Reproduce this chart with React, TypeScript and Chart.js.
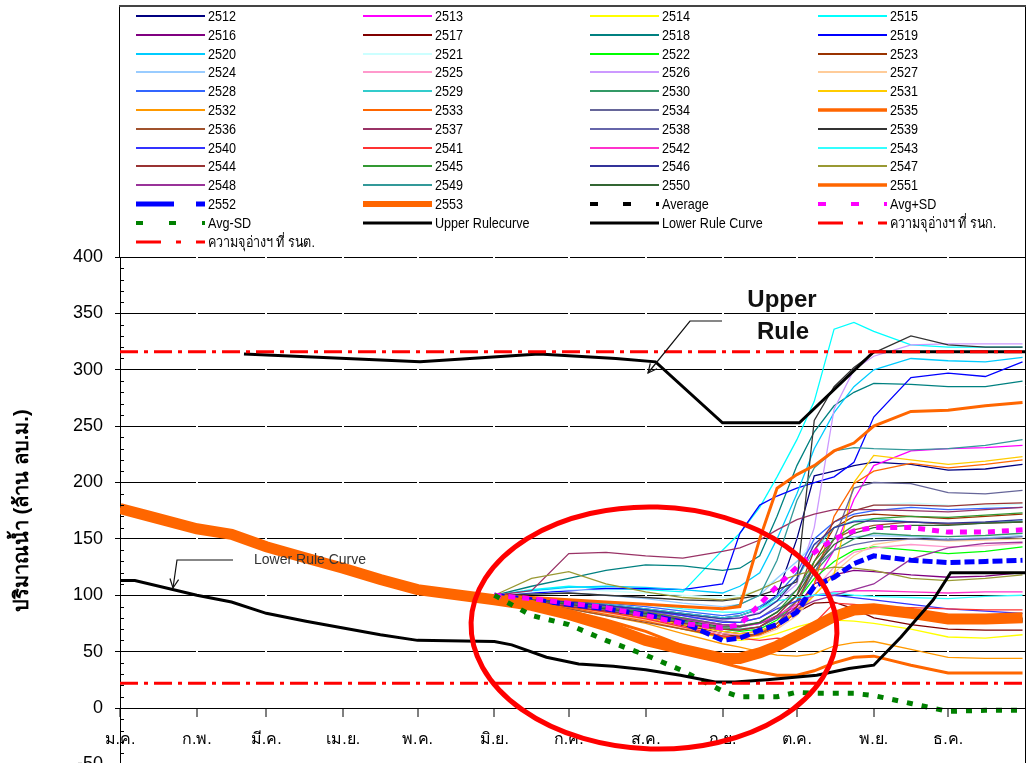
import React, { useEffect, useRef } from "react";
import { Chart, registerables } from "chart.js";

Chart.register(...registerables);

// ---------- axis data ----------
const MONTH_LABELS = ["ม.ค.", "ก.พ.", "มี.ค.", "เม.ย.", "พ.ค.", "มิ.ย.", "ก.ค.", "ส.ค.", "ก.ย.", "ต.ค.", "พ.ย.", "ธ.ค."];
const MONTH_START_DAYS = [0, 31, 59, 90, 120, 151, 181, 212, 243, 273, 304, 334];
const Y_MIN = -50;
const Y_MAX = 400;
const Y_STEP = 50;
const Y_TITLE = "ปริมาณน้ำ (ล้าน ลบ.ม.)";

// ---------- series data (day of year -> million m3) ----------
const SEASON_DAYS = [151, 166, 181, 196, 212, 227, 243, 250, 258, 265, 273, 280, 288, 296, 304, 319, 334, 349, 364];

const S2512 = [100, 97, 95, 92, 88, 84, 80, 82, 88, 100, 150, 206, 210, 215, 218, 216, 211, 212, 216];
const S2513 = [100, 96, 93, 90, 86, 80, 74, 72, 75, 82, 90, 110, 140, 185, 215, 228, 230, 231, 233];
const S2514 = [100, 95, 90, 85, 78, 70, 62, 60, 62, 66, 72, 76, 78, 77, 75, 70, 63, 62, 65];
const S2515 = [100, 105, 108, 106, 105, 103, 140, 155, 178, 205, 238, 272, 336, 342, 334, 322, 320, 320, 320];
const S2516 = [100, 95, 91, 88, 83, 76, 68, 66, 68, 75, 90, 110, 118, 122, 121, 118, 116, 117, 120];
const S2517 = [100, 96, 92, 88, 82, 74, 66, 63, 65, 72, 85, 93, 94, 88, 80, 74, 70, 69, 69];
const S2518 = [100, 108, 115, 122, 127, 126, 122, 124, 135, 170, 215, 245, 268, 280, 288, 287, 285, 285, 290];
const S2519 = [100, 102, 104, 106, 106, 105, 110, 155, 180, 188, 195, 200, 205, 218, 258, 293, 297, 294, 307];
const S2520 = [100, 104, 107, 108, 107, 105, 102, 108, 120, 150, 190, 230, 262, 285, 300, 310, 308, 307, 311];
const S2521 = [100, 103, 105, 104, 102, 100, 98, 100, 105, 115, 130, 150, 165, 175, 180, 182, 180, 179, 181];
const S2522 = [100, 96, 92, 87, 82, 76, 70, 68, 70, 78, 95, 115, 130, 140, 143, 140, 137, 139, 143];
const S2523 = [100, 95, 90, 86, 80, 73, 66, 64, 66, 72, 90, 130, 160, 170, 172, 170, 168, 170, 172];
const S2524 = [100, 101, 102, 100, 97, 93, 90, 92, 100, 115, 130, 145, 150, 152, 153, 152, 150, 151, 153];
const S2525 = [100, 95, 90, 85, 79, 72, 66, 65, 68, 75, 88, 105, 125, 138, 142, 145, 143, 144, 146];
const S2526 = [100, 96, 92, 88, 84, 80, 78, 80, 85, 95, 110, 160, 265, 300, 312, 322, 323, 323, 323];
const S2527 = [100, 95, 89, 84, 78, 71, 64, 62, 64, 70, 82, 100, 120, 135, 145, 150, 148, 149, 150];
const S2528 = [100, 98, 96, 93, 90, 86, 82, 84, 90, 100, 120, 150, 165, 172, 175, 178, 176, 177, 178];
const S2529 = [100, 97, 94, 92, 88, 84, 80, 82, 88, 98, 115, 140, 160, 166, 168, 165, 163, 164, 166];
const S2530 = [100, 96, 92, 88, 83, 77, 71, 70, 72, 80, 95, 120, 140, 150, 155, 153, 152, 153, 155];
const S2531 = [100, 95, 90, 85, 80, 74, 68, 66, 68, 75, 85, 100, 118, 200, 224, 220, 216, 219, 223];
const S2532 = [100, 94, 88, 82, 75, 66, 57, 54, 50, 47, 46, 48, 55, 58, 59, 52, 45, 44, 44];
const S2533 = [100, 95, 89, 83, 77, 70, 63, 62, 65, 72, 85, 110, 170, 199, 210, 217, 213, 216, 220];
const S2534 = [100, 96, 92, 87, 82, 76, 70, 69, 72, 80, 95, 120, 150, 195, 200, 199, 191, 190, 193];
const S2535 = [100, 93, 86, 78, 68, 55, 40, 36, 32, 29, 29, 33, 40, 45, 46, 38, 31, 31, 31];
const S2536 = [100, 94, 88, 82, 76, 70, 64, 63, 66, 75, 95, 125, 150, 158, 162, 165, 163, 164, 165];
const S2537 = [100, 104, 137, 138, 135, 133, 139, 142, 149, 158, 167, 172, 176, 176, 176, 175, 174, 176, 178];
const S2538 = [100, 97, 94, 90, 86, 82, 77, 76, 80, 90, 105, 125, 140, 145, 148, 150, 149, 150, 152];
const S2539 = [100, 101, 102, 100, 98, 96, 95, 97, 100, 105, 112, 255, 285, 302, 315, 330, 322, 320, 320];
const S2540 = [100, 97, 94, 91, 87, 82, 76, 76, 80, 88, 95, 100, 100, 98, 96, 92, 88, 86, 84];
const S2541 = [100, 95, 90, 85, 79, 72, 64, 62, 60, 62, 60, 75, 93, 92, 90, 89, 88, 87, 87];
const S2542 = [100, 96, 93, 89, 85, 79, 73, 72, 75, 82, 92, 100, 103, 104, 104, 103, 102, 103, 103];
const S2543 = [100, 98, 96, 94, 92, 88, 85, 85, 88, 95, 98, 100, 102, 100, 99, 98, 97, 99, 100];
const S2544 = [100, 95, 90, 86, 81, 75, 70, 69, 72, 82, 100, 140, 165, 175, 180, 180, 179, 181, 182];
const S2545 = [100, 96, 93, 89, 85, 80, 74, 73, 76, 85, 105, 130, 150, 162, 168, 170, 169, 171, 173];
const S2546 = [100, 97, 94, 91, 87, 83, 79, 80, 84, 95, 115, 145, 160, 165, 166, 165, 164, 165, 167];
const S2547 = [100, 115, 121, 110, 103, 98, 96, 98, 105, 112, 118, 122, 125, 124, 122, 115, 113, 115, 118];
const S2548 = [100, 96, 92, 88, 84, 79, 74, 73, 75, 80, 88, 95, 100, 105, 110, 132, 142, 146, 147];
const S2549 = [100, 98, 96, 94, 92, 90, 88, 92, 100, 131, 184, 213, 228, 231, 230, 229, 230, 233, 238];
const S2550 = [100, 96, 92, 88, 84, 78, 72, 72, 76, 85, 100, 125, 145, 155, 160, 162, 162, 164, 165];
const S2551 = [100, 98, 96, 94, 92, 90, 88, 90, 150, 195, 207, 215, 228, 235, 250, 263, 264, 268, 271];
const S2552 = [100, 96, 92, 88, 83, 76, 60, 62, 69, 74, 85, 108, 116, 128, 135, 131, 129, 130, 131];

const DAYS_2553 = [0, 12, 31, 45, 59, 75, 90, 105, 120, 151, 166, 181, 196, 212, 227, 243, 250, 258, 265, 273, 280, 288, 296, 304, 319, 334, 349, 364];
const S2553 = [177, 170, 159, 154, 143, 133, 124, 114, 105, 96, 91, 83, 73, 60, 52, 44, 44, 49, 55, 64, 72, 81, 87, 88, 84, 79, 79, 80];

const AVERAGE = [100, 93, 85, 75, 62, 53, 45, 44, 49, 55, 63, 72, 80, 86, 87, 84, 79, 78, 78];
const AVG_PLUS_SD = [100, 97, 93, 89, 82, 75, 71, 74, 92, 108, 125, 138, 150, 157, 160, 160, 156, 156, 158];
const AVG_MINUS_SD = [100, 82, 74, 60, 47, 33, 15, 10, 10, 10, 14, 13, 13, 13, 11, 4, -3, -2, -2];

const UPPER_DAYS = [50, 121, 169, 200, 216, 243, 274, 304, 365];
const UPPER_RULE = [314, 307, 314, 310, 307, 253, 253, 316, 316];

const LOWER_DAYS = [0, 6, 31, 45, 59, 75, 90, 105, 120, 151, 158, 172, 185, 199, 212, 226, 240, 248, 261, 281, 294, 304, 315, 328, 335, 365];
const LOWER_RULE = [113, 113, 100, 94, 84, 77, 71, 65, 60, 59, 56, 45, 39, 37, 34, 29, 23, 23, 25, 29, 35, 38, 63, 96, 120, 120];

const CAP_DAYS = [0, 365];
const CAP_NORMAL = [316, 316];
const CAP_MIN = [22, 22];

// ---------- series list (legend order) ----------
const SERIES: [string, number[], number[]][] = [
  ["2512", SEASON_DAYS, S2512], ["2513", SEASON_DAYS, S2513], ["2514", SEASON_DAYS, S2514], ["2515", SEASON_DAYS, S2515],
  ["2516", SEASON_DAYS, S2516], ["2517", SEASON_DAYS, S2517], ["2518", SEASON_DAYS, S2518], ["2519", SEASON_DAYS, S2519],
  ["2520", SEASON_DAYS, S2520], ["2521", SEASON_DAYS, S2521], ["2522", SEASON_DAYS, S2522], ["2523", SEASON_DAYS, S2523],
  ["2524", SEASON_DAYS, S2524], ["2525", SEASON_DAYS, S2525], ["2526", SEASON_DAYS, S2526], ["2527", SEASON_DAYS, S2527],
  ["2528", SEASON_DAYS, S2528], ["2529", SEASON_DAYS, S2529], ["2530", SEASON_DAYS, S2530], ["2531", SEASON_DAYS, S2531],
  ["2532", SEASON_DAYS, S2532], ["2533", SEASON_DAYS, S2533], ["2534", SEASON_DAYS, S2534], ["2535", SEASON_DAYS, S2535],
  ["2536", SEASON_DAYS, S2536], ["2537", SEASON_DAYS, S2537], ["2538", SEASON_DAYS, S2538], ["2539", SEASON_DAYS, S2539],
  ["2540", SEASON_DAYS, S2540], ["2541", SEASON_DAYS, S2541], ["2542", SEASON_DAYS, S2542], ["2543", SEASON_DAYS, S2543],
  ["2544", SEASON_DAYS, S2544], ["2545", SEASON_DAYS, S2545], ["2546", SEASON_DAYS, S2546], ["2547", SEASON_DAYS, S2547],
  ["2548", SEASON_DAYS, S2548], ["2549", SEASON_DAYS, S2549], ["2550", SEASON_DAYS, S2550], ["2551", SEASON_DAYS, S2551],
  ["2552", SEASON_DAYS, S2552], ["2553", DAYS_2553, S2553], ["Average", SEASON_DAYS, AVERAGE], ["Avg+SD", SEASON_DAYS, AVG_PLUS_SD],
  ["Avg-SD", SEASON_DAYS, AVG_MINUS_SD], ["Upper Rulecurve", UPPER_DAYS, UPPER_RULE], ["Lower Rule Curve", LOWER_DAYS, LOWER_RULE], ["ความจุอ่างฯ ที่ รนก.", CAP_DAYS, CAP_NORMAL],
  ["ความจุอ่างฯ ที่ รนต.", CAP_DAYS, CAP_MIN],
];

// ---------- styles ----------
const YEAR_COLORS: Record<string, string> = {
  "2512": "#000080", "2513": "#FF00FF", "2514": "#FFFF00", "2515": "#00FFFF",
  "2516": "#800080", "2517": "#800000", "2518": "#008080", "2519": "#0000FF",
  "2520": "#00CCFF", "2521": "#CCFFFF", "2522": "#00FF00", "2523": "#993300",
  "2524": "#99CCFF", "2525": "#FF99CC", "2526": "#CC99FF", "2527": "#FFCC99",
  "2528": "#3366FF", "2529": "#33CCCC", "2530": "#339966", "2531": "#FFCC00",
  "2532": "#FF9900", "2533": "#FF6600", "2534": "#666699", "2535": "#FF6600",
  "2536": "#A0522D", "2537": "#993366", "2538": "#6666AA", "2539": "#333333",
  "2540": "#3333FF", "2541": "#FF3333", "2542": "#FF33CC", "2543": "#33FFFF",
  "2544": "#993333", "2545": "#339933", "2546": "#333399", "2547": "#999933",
  "2548": "#993399", "2549": "#339999", "2550": "#336633", "2551": "#FF6600",
};

type Sty = { color: string; width: number; dash?: number[]; legendDash?: number[]; legendWidth?: number };
const SPECIAL: Record<string, Sty> = {
  "2535": { color: "#FF6600", width: 3, legendWidth: 3.5 },
  "2551": { color: "#FF6600", width: 3, legendWidth: 3.5 },
  "2552": { color: "#0000FF", width: 5, dash: [10, 4], legendDash: [38, 22], legendWidth: 5 },
  "2553": { color: "#FF6600", width: 11, legendWidth: 6 },
  "Average": { color: "#000000", width: 5, dash: [6, 8], legendDash: [8, 25], legendWidth: 4 },
  "Avg+SD": { color: "#FF00FF", width: 5, dash: [7, 7], legendDash: [8, 25], legendWidth: 4 },
  "Avg-SD": { color: "#008000", width: 5, dash: [6, 9], legendDash: [7, 26], legendWidth: 4 },
  "Upper Rulecurve": { color: "#000000", width: 3, legendWidth: 3 },
  "Lower Rule Curve": { color: "#000000", width: 3, legendWidth: 3 },
  "ความจุอ่างฯ ที่ รนก.": { color: "#FF0000", width: 3, dash: [18, 6, 4, 6], legendDash: [25, 15, 5, 15], legendWidth: 3 },
  "ความจุอ่างฯ ที่ รนต.": { color: "#FF0000", width: 3, dash: [18, 6, 4, 6], legendDash: [25, 15, 5, 15], legendWidth: 3 },
};

function styleFor(label: string): Sty {
  if (SPECIAL[label]) return SPECIAL[label];
  return { color: YEAR_COLORS[label], width: 1.3, legendWidth: 1.8 };
}

const FONT = "'Liberation Sans', Arial, 'DejaVu Sans', sans-serif";

// ---------- legend / annotation plugin ----------
const LEG_COLS = [136, 363, 590, 818];
const LEG_ROW0 = 16;
const LEG_ROW_STEP = 18.8;
const LEG_LINE = 69;

function drawArrow(ctx: CanvasRenderingContext2D, pts: number[][], head: number) {
  ctx.beginPath();
  ctx.moveTo(pts[0][0], pts[0][1]);
  for (let i = 1; i < pts.length; i++) ctx.lineTo(pts[i][0], pts[i][1]);
  ctx.stroke();
  const [x1, y1] = pts[pts.length - 2];
  const [x2, y2] = pts[pts.length - 1];
  const a = Math.atan2(y2 - y1, x2 - x1);
  ctx.beginPath();
  ctx.moveTo(x2 - head * Math.cos(a - 0.45), y2 - head * Math.sin(a - 0.45));
  ctx.lineTo(x2, y2);
  ctx.lineTo(x2 - head * Math.cos(a + 0.45), y2 - head * Math.sin(a + 0.45));
  ctx.stroke();
}

const decorPlugin = {
  id: "decor",
  afterDraw(chart: any) {
    const ctx: CanvasRenderingContext2D = chart.ctx;
    const { left, right, top, bottom } = chart.chartArea;
    const ys = chart.scales.y;
    ctx.save();

    // frame lines
    ctx.setLineDash([]);
    ctx.strokeStyle = "#000";
    ctx.lineWidth = 1;
    ctx.beginPath();
    ctx.moveTo(Math.round(right) + 0.5, 6);
    ctx.lineTo(Math.round(right) + 0.5, bottom);
    ctx.moveTo(Math.round(left) - 0.5, 6);
    ctx.lineTo(Math.round(left) - 0.5, top);
    ctx.stroke();
    ctx.strokeStyle = "#444";
    ctx.lineWidth = 2;
    ctx.beginPath();
    ctx.moveTo(left - 1, 6);
    ctx.lineTo(right + 1, 6);
    ctx.stroke();

    // minor ticks on the value axis
    ctx.strokeStyle = "#000";
    ctx.lineWidth = 1;
    ctx.beginPath();
    for (let v = Y_MIN; v <= Y_MAX; v += 10) {
      if (v % Y_STEP === 0) continue;
      const py = Math.round(ys.getPixelForValue(v)) + 0.5;
      ctx.moveTo(left, py);
      ctx.lineTo(left + 4, py);
    }
    ctx.stroke();

    // legend
    chart.data.datasets.forEach((ds: any, i: number) => {
      const col = i % 4;
      const row = Math.floor(i / 4);
      const x = LEG_COLS[col];
      const y = Math.round(LEG_ROW0 + row * LEG_ROW_STEP);
      ctx.strokeStyle = ds.borderColor;
      ctx.lineWidth = ds.legendWidth;
      ctx.setLineDash(ds.legendDash || []);
      ctx.lineCap = "butt";
      ctx.beginPath();
      ctx.moveTo(x, y);
      ctx.lineTo(x + LEG_LINE, y);
      ctx.stroke();
      ctx.setLineDash([]);
      ctx.save();
      ctx.translate(x + LEG_LINE + 3, y + 1);
      ctx.scale(0.84, 1);
      ctx.fillStyle = "#000";
      ctx.font = `15px ${FONT}`;
      ctx.textBaseline = "middle";
      ctx.textAlign = "left";
      ctx.fillText(ds.label, 0, 0);
      ctx.restore();
    });

    // annotations
    ctx.fillStyle = "#111";
    ctx.font = `bold 24px ${FONT}`;
    ctx.textAlign = "center";
    ctx.textBaseline = "middle";
    ctx.fillText("Upper", 782, 300);
    ctx.fillText("Rule", 783, 332);

    ctx.strokeStyle = "#111";
    ctx.lineWidth = 1.2;
    drawArrow(ctx, [[722, 321], [690, 321], [648, 373]], 10);

    ctx.font = `14px ${FONT}`;
    ctx.fillStyle = "#333";
    ctx.textAlign = "left";
    ctx.fillText("Lower Rule Curve", 254, 560);
    drawArrow(ctx, [[233, 560], [177, 560], [173, 588]], 10);

    // highlight ellipse
    ctx.strokeStyle = "#FF0000";
    ctx.lineWidth = 5;
    ctx.beginPath();
    ctx.ellipse(654, 628, 183, 121, 0.03, 0, Math.PI * 2);
    ctx.stroke();

    ctx.restore();
  },
};

function buildConfig(): any {
  const datasets = SERIES.map(([label, days, vals], i) => {
    const s = styleFor(label);
    let order = 100 - i;
    if (label === "Average") order = 100 - 41 + 1; // drawn beneath 2553
    return {
      label,
      data: days.map((d, k) => ({ x: d, y: vals[k] })),
      borderColor: s.color,
      backgroundColor: s.color,
      borderWidth: s.width,
      borderDash: s.dash || [],
      legendDash: s.legendDash,
      legendWidth: s.legendWidth ?? s.width,
      pointRadius: 0,
      pointHoverRadius: 0,
      fill: false,
      tension: 0,
      order,
    };
  });

  return {
    type: "line",
    data: { datasets },
    options: {
      responsive: false,
      animation: false,
      events: [],
      layout: { padding: { top: 257, right: 3, bottom: 25.6, left: 0 } },
      plugins: { legend: { display: false }, tooltip: { enabled: false }, title: { display: false } },
      scales: {
        y: {
          type: "linear",
          min: Y_MIN,
          max: Y_MAX,
          afterFit: (scale: any) => {
            scale.width = 120;
          },
          ticks: {
            stepSize: Y_STEP,
            color: "#000",
            padding: 12,
            font: { size: 18, family: FONT },
          },
          grid: { color: "#000", lineWidth: 1, tickLength: 5, tickColor: "#000" },
          border: { color: "#000", width: 1 },
          title: {
            display: true,
            text: Y_TITLE,
            color: "#000",
            font: { size: 20, weight: "bold", family: FONT },
            padding: { top: 10, bottom: 0 },
          },
        },
        x: {
          type: "linear",
          min: 0,
          max: 365,
          position: { y: 0 },
          afterBuildTicks: (scale: any) => {
            scale.ticks = MONTH_START_DAYS.map((v) => ({ value: v }));
          },
          ticks: {
            autoSkip: false,
            maxRotation: 0,
            minRotation: 0,
            color: "#000",
            padding: 14,
            font: { size: 16, family: FONT },
            callback: (_v: any, idx: number) => MONTH_LABELS[idx],
          },
          grid: {
            z: 0,
            color: (c: any) => (c.index === 0 ? "rgba(255,255,255,0)" : "#FFFFFF"),
            lineWidth: 2,
            tickLength: 8,
            tickColor: "#000",
            tickWidth: 1,
          },
          border: { color: "#000", width: 1, z: 1 },
        },
      },
    },
    plugins: [decorPlugin],
  };
}

export default function App() {
  const ref = useRef<HTMLCanvasElement | null>(null);
  useEffect(() => {
    if (!ref.current) return;
    const chart = new Chart(ref.current, buildConfig());
    return () => chart.destroy();
  }, []);
  return (
    <div
      style={{
        position: "fixed",
        left: 0,
        top: 0,
        width: 1028,
        height: 763,
        overflow: "hidden",
        background: "#fff",
      }}
    >
      <canvas ref={ref} width={1028} height={790} style={{ display: "block", width: 1028, height: 790 }} />
    </div>
  );
}
